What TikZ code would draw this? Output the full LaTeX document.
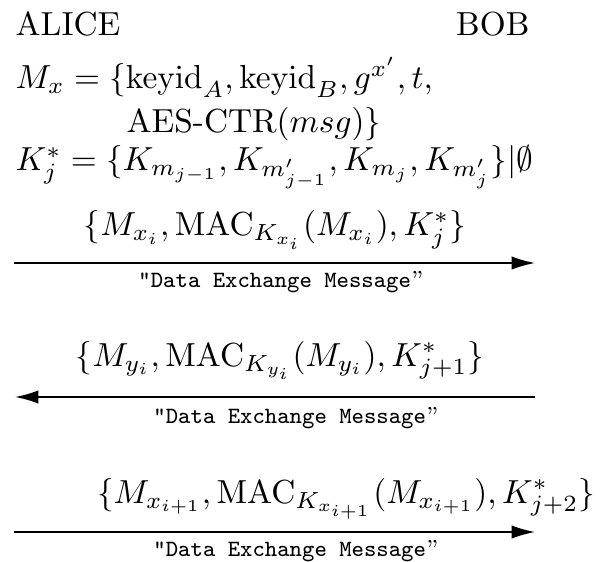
\documentclass[tikz,border=0pt]{standalone}
\usetikzlibrary{arrows.meta}
\tikzset{
  txt/.style={inner sep=0pt, anchor=base west},
  msg/.style={inner sep=0pt, anchor=base},
  lbl/.style={inner sep=0pt, anchor=base, font=\scriptsize},
  flow/.style={line width=0.5pt, -{Latex[length=7pt,width=4pt]}}
}
\begin{document}
\begin{tikzpicture}[x=0.3pt,y=-0.3pt]
      \useasboundingbox (0,0) rectangle (604,561);
      \node[txt] (alice) at (15,36) {ALICE};
      \node[txt, anchor=base east] (bob) at (530,36) {BOB};
      \node[txt] (mx) at (15,89) {$M_x = \{\mathrm{keyid}_A, \mathrm{keyid}_B, g^{x'}, t,$};
      \node[txt] (aes) at (126,133) {AES-CTR$(msg)\}$};
      \node[txt] (kj) at (15,171) {$K^*_j = \{K_{m_{j-1}}, K_{m'_{j-1}}, K_{m_j}, K_{m'_j}\}|\emptyset$};
      % messages
      \node[msg] (m1) at (275,236) {$\{M_{x_i}, \mathrm{MAC}_{K_{x_i}}(M_{x_i}), K^*_j\}$};
      \node[msg] (m2) at (280,366) {$\{M_{y_i}, \mathrm{MAC}_{K_{y_i}}(M_{y_i}), K^*_{j+1}\}$};
      \node[msg] (m3) at (346,503) {$\{M_{x_{i+1}}, \mathrm{MAC}_{K_{x_{i+1}}}(M_{x_{i+1}}), K^*_{j+2}\}$};
      \coordinate (a1) at (14,263);
      \coordinate (b1) at (535,263);
      \coordinate (a2) at (15,397);
      \coordinate (b2) at (535,397);
      \coordinate (a3) at (14,532);
      \coordinate (b3) at (535,532);
      \draw[flow] (a1) -- (b1);
      \draw[flow] (b2) -- (a2);
      \draw[flow] (a3) -- (b3);
      \foreach \n/\x/\y in {1/281/287, 2/296/423, 3/296/556}
      {\node[lbl] (l\n) at (\x,\y) {\texttt{"Data Exchange Message}''};}
    \end{tikzpicture}
\end{document}
